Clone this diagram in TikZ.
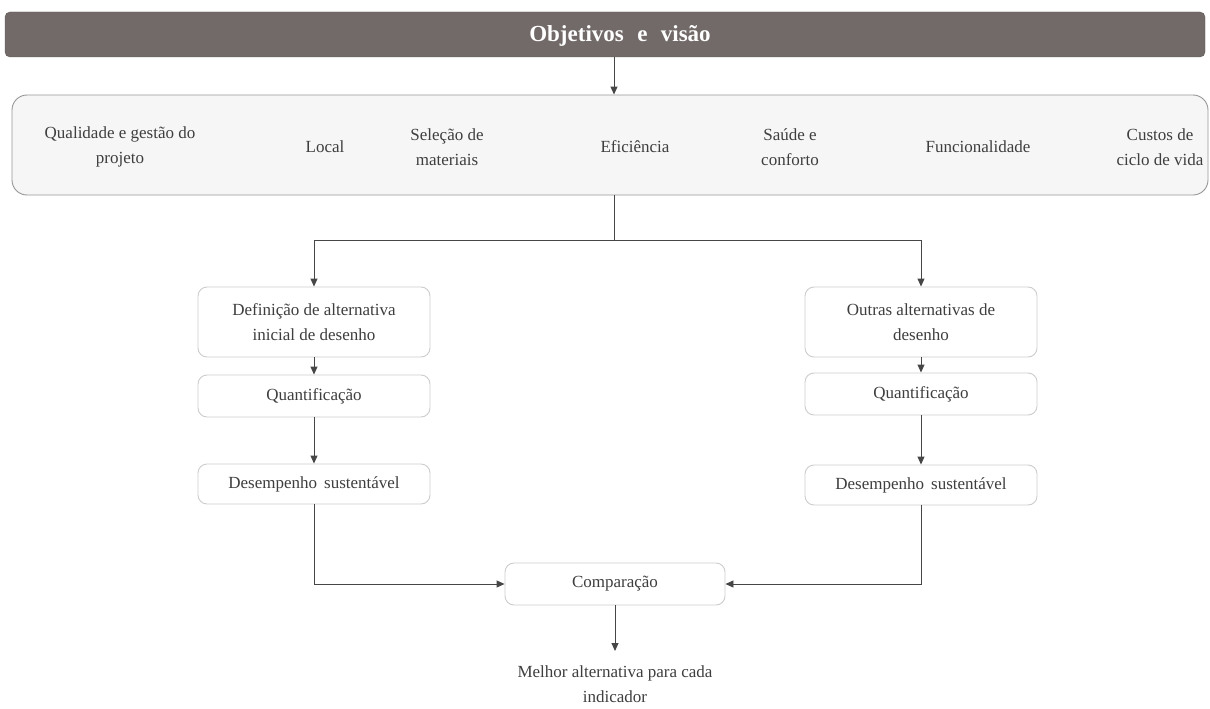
\documentclass[tikz,border=0pt]{standalone}
\usepackage{fontspec}
\setmainfont{Liberation Serif}
\usetikzlibrary{arrows.meta}
\definecolor{barfill}{RGB}{114,106,104}
\definecolor{panelfill}{RGB}{246,246,246}
\definecolor{panelline}{RGB}{150,150,150}
\definecolor{boxline}{RGB}{205,205,205}
\definecolor{inktext}{RGB}{62,62,62}
\definecolor{inkline}{RGB}{70,70,70}
\tikzset{
  bodytext/.style={font=\fontsize{17}{25}\selectfont, text=inktext, align=center},
  titlebar/.style={draw=barfill!85!black, fill=barfill, rounded corners=5pt,
    minimum width=1200pt, minimum height=45pt, inner sep=0pt},
  titletext/.style={text=white, font=\fontsize{23}{27}\selectfont\bfseries, inner sep=0pt},
  panel/.style={draw=panelline, fill=panelfill, rounded corners=15pt, line width=0.9pt,
    minimum width=1196pt, minimum height=100pt, inner sep=0pt},
  stepbox/.style={bodytext, draw=boxline, fill=white, rounded corners=9pt, line width=0.9pt,
    minimum width=232pt, inner sep=0pt},
  arr/.style={draw=inkline, line width=0.9pt, -{Triangle[length=8pt,width=7pt]}},
  link/.style={draw=inkline, line width=0.9pt},
}
\begin{document}
\begin{tikzpicture}[x=1pt,y=-1pt]
\useasboundingbox (0,0) rectangle (1210,709);

% header and criteria panel
\node[titlebar] (top) at (605,34.5) {};
\node[titletext] (title) at (620,36) {Objetivos\,\, e\,\, visão};
\node[panel] (crit) at (610,145) {};
\node[bodytext] (c1) at (120,147) {Qualidade e gestão do\\projeto};
\node[bodytext] (c2) at (325,147) {Local};
\node[bodytext] (c3) at (447,147) {Seleção de\\materiais};
\node[bodytext] (c4) at (635,147) {Eficiência};
\node[bodytext] (c5) at (790,147) {Saúde e\\conforto};
\node[bodytext] (c6) at (978,147) {Funcionalidade};
\node[bodytext] (c7) at (1160,147) {Custos de\\ciclo de vida};

\coordinate (spine) at (614,0);
\coordinate (split) at (614,240);

% left branch
\node[stepbox, minimum height=70pt] (L1) at (314,322) {Definição de alternativa\\inicial de desenho};
\node[stepbox, minimum height=42pt] (L2) at (314,396) {Quantificação};
\node[stepbox, minimum height=40pt] (L3) at (314,484) {Desempenho\, sustentável};

% right branch
\node[stepbox, minimum height=70pt] (R1) at (921,322) {Outras alternativas de\\desenho};
\node[stepbox, minimum height=42pt] (R2) at (921,394) {Quantificação};
\node[stepbox, minimum height=40pt] (R3) at (921,485) {Desempenho\, sustentável};

% comparison and result
\node[stepbox, minimum width=220pt, minimum height=42pt] (comp) at (615,584) {Comparação};
\node[bodytext, inner xsep=0pt, inner ysep=14pt, anchor=north] (best) at (615,651) {Melhor alternativa para cada\\indicador};

% connectors
\draw[arr] (top.south -| spine) -- (crit.north -| spine);
\draw[link] (crit.south -| spine) -- (split);
\draw[link] (L1.north |- split) -- (R1.north |- split);
\draw[arr] (L1.north |- split) -- (L1.north);
\draw[arr] (R1.north |- split) -- (R1.north);
\draw[arr] (L1) -- (L2);
\draw[arr] (L2) -- (L3);
\draw[arr] (R1) -- (R2);
\draw[arr] (R2) -- (R3);
\draw[arr] (L3.south) |- (comp.west);
\draw[arr] (R3.south) |- (comp.east);
\draw[arr] (comp.south) -- (best.north);
\end{tikzpicture}
\end{document}
